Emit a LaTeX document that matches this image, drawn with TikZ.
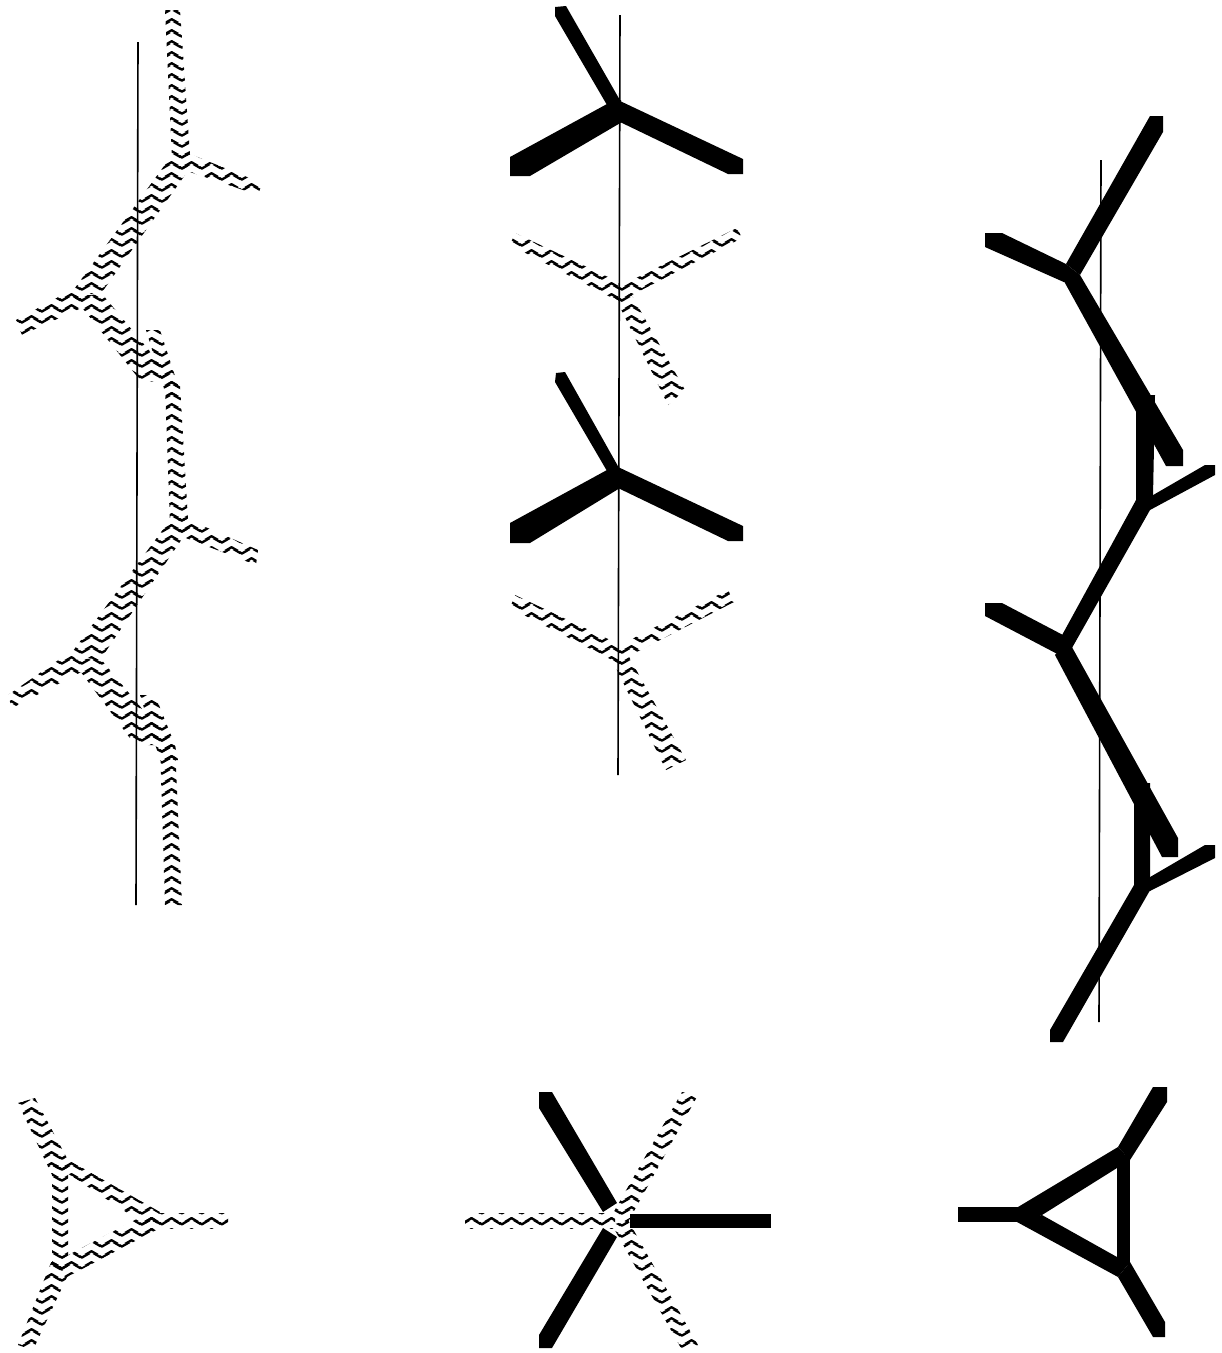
\documentclass[tikz,border=0pt]{standalone}
\usepackage{xcolor}
\usepackage{tikz}
\usetikzlibrary{patterns}

\pgfdeclarepatternformonly{wavecell}{\pgfpointorigin}{\pgfpoint{20pt}{11pt}}{\pgfpoint{20pt}{11pt}}{
  \pgfsetlinewidth{2.5pt}
  \pgfsetroundjoin
  \pgfpathmoveto{\pgfpoint{-8pt}{3pt}}
  \pgfpathlineto{\pgfpoint{2pt}{-3pt}}
  \pgfpathlineto{\pgfpoint{12pt}{3pt}}
  \pgfpathlineto{\pgfpoint{22pt}{-3pt}}
  \pgfpathlineto{\pgfpoint{32pt}{3pt}}
  \pgfusepath{stroke}
  \pgfpathmoveto{\pgfpoint{-8pt}{14pt}}
  \pgfpathlineto{\pgfpoint{2pt}{8pt}}
  \pgfpathlineto{\pgfpoint{12pt}{14pt}}
  \pgfpathlineto{\pgfpoint{22pt}{8pt}}
  \pgfpathlineto{\pgfpoint{32pt}{14pt}}
  \pgfusepath{stroke}
}

\tikzset{
  bar/.style={fill=black},
  wavy/.style={pattern=wavecell,pattern color=black},
  axisline/.style={draw=black,line width=1.6pt}
}

\begin{document}
\begin{tikzpicture}[x=1pt,y=-1pt]
  \useasboundingbox (0,0) rectangle (1222,1353);
  % left column
  \fill[wavy] (165,10) -- (180,10) -- (190,155) -- (172,160) -- cycle ;
  \fill[wavy] (180,150) -- (262,183) -- (258,195) -- (178,168) -- cycle ;
  \fill[wavy] (172,155) -- (190,168) -- (100,295) -- (72,292) -- cycle ;
  \fill[wavy] (75,288) -- (88,305) -- (22,335) -- (16,320) -- cycle ;
  \fill[wavy] (72,295) -- (103,295) -- (178,385) -- (140,380) -- cycle ;
  \fill[wavy] (146,330) -- (160,330) -- (178,385) -- (180,395) -- (166,395) -- cycle ;
  \fill[wavy] (165,385) -- (180,385) -- (188,520) -- (170,525) -- cycle ;
  %
  \fill[wavy] (178,515) -- (258,550) -- (256,565) -- (178,535) -- cycle ;
  \fill[wavy] (170,520) -- (188,530) -- (100,660) -- (70,655) -- cycle ;
  \fill[wavy] (70,652) -- (85,670) -- (12,708) -- (8,695) -- cycle ;
  \fill[wavy] (72,660) -- (100,658) -- (172,745) -- (135,745) -- cycle ;
  \fill[wavy] (140,695) -- (155,695) -- (175,745) -- (178,760) -- (160,760) -- cycle ;
  \fill[wavy] (160,745) -- (175,745) -- (182,905) -- (165,905) -- cycle ;
  %
  \coordinate (leftTop) at (138,42) ;
  \coordinate (leftBot) at (136,905) ;
  \draw[axisline] (leftTop) -- (leftBot) ;
  % middle column
  \fill[bar] (555,7) -- (566,6) -- (621,102) -- (607,105) -- (555,16) -- cycle ;
  \fill[bar] (510,157) -- (607,104) -- (621,100) -- (622,122) -- (530,176) -- (510,176) -- cycle ;
  \fill[bar] (620,101) -- (743,159) -- (743,174) -- (728,174) -- (620,122) -- cycle ;
  %
  \fill[wavy] (515,233) -- (625,285) -- (622,303) -- (510,245) -- cycle ;
  \fill[wavy] (622,285) -- (737,228) -- (742,238) -- (628,297) -- cycle ;
  \fill[wavy] (615,297) -- (630,292) -- (685,390) -- (668,405) -- cycle ;
  %
  \fill[bar] (556,373) -- (565,372) -- (619,468) -- (607,471) -- (555,382) -- cycle ;
  \fill[bar] (510,523) -- (607,470) -- (619,466) -- (620,488) -- (530,543) -- (510,543) -- cycle ;
  \fill[bar] (618,467) -- (743,526) -- (743,541) -- (728,541) -- (618,488) -- cycle ;
  %
  \fill[wavy] (515,595) -- (625,647) -- (622,665) -- (510,608) -- cycle ;
  \fill[wavy] (620,645) -- (728,590) -- (734,602) -- (625,658) -- cycle ;
  \fill[wavy] (613,662) -- (628,655) -- (686,760) -- (666,770) -- cycle ;
  %
  \coordinate (midTop) at (620,15) ;
  \coordinate (midBot) at (618,775) ;
  \draw[axisline] (midTop) -- (midBot) ;
  % right column
  \coordinate (rightTop) at (1101,160) ;
  \coordinate (rightBot) at (1099,1022) ;
  \draw[axisline] (rightTop) -- (rightBot) ;
  %
  \fill[bar] (1150,116) -- (1163,116) -- (1163,132) -- (1080,275) -- (1066,264) -- cycle ;
  \fill[bar] (985,233) -- (1002,233) -- (1066,264) -- (1066,283) -- (985,247) -- cycle ;
  \fill[bar] (1065,283) -- (1066,264) -- (1080,275) -- (1183,450) -- (1183,466) -- (1166,466) -- cycle ;
  \fill[bar] (1145,395) -- (1155,395) -- (1153,497) -- (1136,500) -- (1136,410) -- cycle ;
  \fill[bar] (1148,498) -- (1205,465) -- (1215,465) -- (1215,475) -- (1150,510) -- cycle ;
  \fill[bar] (1136,495) -- (1153,495) -- (1150,510) -- (1068,655) -- (1055,648) -- (1136,500) -- cycle ;
  %
  \fill[bar] (985,603) -- (1002,603) -- (1063,635) -- (1065,658) -- (985,616) -- cycle ;
  \fill[bar] (1055,655) -- (1068,640) -- (1178,838) -- (1178,857) -- (1162,857) -- cycle ;
  \fill[bar] (1140,783) -- (1150,783) -- (1150,880) -- (1134,885) -- (1134,798) -- cycle ;
  \fill[bar] (1145,880) -- (1205,845) -- (1215,845) -- (1215,858) -- (1148,892) -- cycle ;
  \fill[bar] (1134,878) -- (1150,878) -- (1149,892) -- (1063,1042) -- (1050,1042) -- (1050,1030) -- (1134,885) -- cycle ;
  % bottom left
  \fill[wavy] (18,1103) -- (35,1098) -- (68,1160) -- (52,1175) -- cycle ;
  \fill[wavy] (52,1165) -- (68,1165) -- (68,1270) -- (52,1270) -- cycle ;
  \fill[wavy] (55,1165) -- (65,1158) -- (160,1212) -- (150,1228) -- cycle ;
  \fill[wavy] (55,1262) -- (150,1212) -- (160,1228) -- (65,1278) -- cycle ;
  \fill[wavy] (150,1213) -- (228,1213) -- (228,1228) -- (150,1228) -- cycle ;
  \fill[wavy] (52,1260) -- (68,1275) -- (33,1350) -- (18,1345) -- cycle ;
  % bottom middle
  \fill[bar] (539,1092) -- (552,1092) -- (617,1203) -- (603,1212) -- (539,1108) -- cycle ;
  \fill[bar] (539,1348) -- (539,1335) -- (603,1228) -- (617,1237) -- (552,1348) -- cycle ;
  \fill[bar] (630,1214) -- (771,1214) -- (771,1228) -- (630,1228) -- cycle ;
  \fill[wavy] (465,1213) -- (615,1213) -- (615,1228) -- (465,1228) -- cycle ;
  \fill[wavy] (612,1215) -- (682,1092) -- (698,1095) -- (628,1222) -- cycle ;
  \fill[wavy] (612,1225) -- (628,1220) -- (698,1345) -- (682,1350) -- cycle ;
  % bottom right
  \fill[bar] (958,1207) -- (1030,1207) -- (1030,1222) -- (958,1222) -- cycle ;
  \fill[bar] (1018,1207) -- (1118,1147) -- (1130,1160) -- (1117,1168) -- (1042,1215) -- (1025,1222) -- cycle ;
  \fill[bar] (1017,1222) -- (1042,1215) -- (1117,1257) -- (1130,1262) -- (1118,1277) -- cycle ;
  \fill[bar] (1117,1155) -- (1130,1155) -- (1130,1265) -- (1117,1265) -- cycle ;
  \fill[bar] (1118,1147) -- (1153,1087) -- (1167,1087) -- (1167,1102) -- (1130,1160) -- cycle ;
  \fill[bar] (1118,1277) -- (1130,1262) -- (1165,1322) -- (1165,1337) -- (1153,1337) -- cycle ;
\end{tikzpicture}
\end{document}
